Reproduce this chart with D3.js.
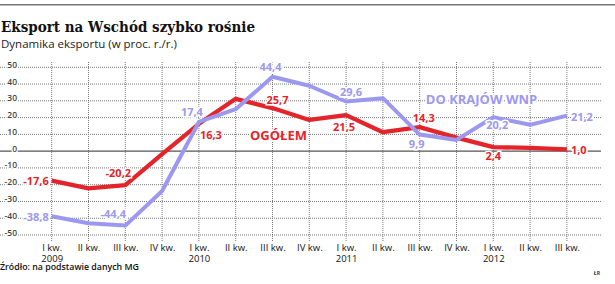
<!DOCTYPE html>
<html>
<head>
<meta charset="utf-8">
<script src="https://cdn.jsdelivr.net/npm/d3@7"></script>
<style>
  body { margin: 0; background: #fff; }
  svg { display: block; }
  text { font-family: "Open Sans", sans-serif; }
</style>
</head>
<body>
<div id="chart"></div>
<script>
// data (export dynamics, % y/y)
const quarters = ["I kw.", "II kw.", "III kw.", "IV kw.", "I kw.", "II kw.", "III kw.", "IV kw.",
                  "I kw.", "II kw.", "III kw.", "IV kw.", "I kw.", "II kw.", "III kw."];
const years = ["2009", "", "", "", "2010", "", "", "", "2011", "", "", "", "2012", "", ""];
const ogolem = [-17.6, -22.2, -20.2, -1.8, 16.3, 31.2, 25.7, 18.6, 21.5, 11.3, 14.3, 8.1, 2.4, 1.9, 1.0];
const wnp = [-38.8, -43.0, -44.4, -23.8, 17.4, 25.0, 44.4, 39.0, 29.6, 31.6, 9.9, 6.7, 20.2, 15.7, 21.2];
const yTicks = [50, 40, 30, 20, 10, 0, -10, -20, -30, -40, -50];

// label offsets for the values shown on the lines (every second quarter)
const redLabels = [
    { i: 0, anchor: "end", dx: -3, dy: 4 },
    { i: 2, anchor: "middle", dx: -7, dy: -8 },
    { i: 4, anchor: "start", dx: 1, dy: 15 },
    { i: 6, anchor: "middle", dx: 5, dy: -4 },
    { i: 8, anchor: "middle", dx: -2, dy: 16 },
    { i: 10, anchor: "middle", dx: 4, dy: -5 },
    { i: 12, anchor: "middle", dx: 0, dy: 13 },
    { i: 14, anchor: "start", dx: 4, dy: 5 }
];
const blueLabels = [
    { i: 0, anchor: "end", dx: -3, dy: 5 },
    { i: 2, anchor: "middle", dx: -12, dy: -8 },
    { i: 4, anchor: "middle", dx: -7, dy: -6 },
    { i: 6, anchor: "middle", dx: -2, dy: -6 },
    { i: 8, anchor: "middle", dx: 5, dy: -6 },
    { i: 10, anchor: "middle", dx: -3, dy: 13 },
    { i: 12, anchor: "middle", dx: 4, dy: 12 },
    { i: 14, anchor: "start", dx: 4, dy: 5 }
];

const width = 615, height = 284;
const red = "#e3242b", blue = "#9c98f0";

const svg = d3.select("#chart").append("svg")
    .attr("width", width)
    .attr("height", height);

// top rule, title, subtitle
svg.append("rect")
    .attr("x", 0).attr("y", 4)
    .attr("width", width).attr("height", 1.5)
    .style("fill", "#777");

svg.append("text")
    .attr("x", 1).attr("y", 31.5)
    .text("Eksport na Wschód szybko rośnie")
    .attr("textLength", 254)
    .attr("lengthAdjust", "spacingAndGlyphs")
    .style("font-family", "'DejaVu Serif', serif")
    .style("font-weight", "bold")
    .style("font-size", "15.5px")
    .style("fill", "#111");

svg.append("text")
    .attr("x", 1).attr("y", 47.5)
    .text("Dynamika eksportu (w proc. r./r.)")
    .style("font-size", "11.5px")
    .style("fill", "#222");

// scales
const x = d3.scalePoint()
    .domain(d3.range(quarters.length))
    .range([51.7, 566.9]);

const y = d3.scaleLinear()
    .domain([-50, 50])
    .range([235, 67.3]);

// dotted grid
const grid = svg.append("g");

grid.selectAll(".hgrid")
    .data(yTicks.filter(d => d !== 0))
    .enter()
    .append("line")
    .attr("class", "hgrid")
    .attr("x1", 0).attr("x2", 601)
    .attr("y1", d => y(d)).attr("y2", d => y(d))
    .style("stroke", "#777")
    .style("stroke-width", 1)
    .style("stroke-dasharray", "1,1");

grid.selectAll(".vgrid")
    .data(x.domain())
    .enter()
    .append("line")
    .attr("class", "vgrid")
    .attr("x1", d => x(d)).attr("x2", d => x(d))
    .attr("y1", 62).attr("y2", 242)
    .style("stroke", "#777")
    .style("stroke-width", 1)
    .style("stroke-dasharray", "1,1");

// zero line
svg.append("line")
    .attr("x1", 0).attr("x2", 601)
    .attr("y1", y(0)).attr("y2", y(0))
    .style("stroke", "#555")
    .style("stroke-width", 1.4);

// y labels
svg.selectAll(".ylab")
    .data(yTicks)
    .enter()
    .append("text")
    .attr("class", "ylab")
    .attr("x", 17)
    .attr("y", d => y(d) + 0.5)
    .attr("text-anchor", "end")
    .text(d => d)
    .style("font-size", "8.5px")
    .style("font-weight", "600")
    .style("fill", "#444")
    .style("stroke", "#fff")
    .style("stroke-width", 2.5)
    .style("paint-order", "stroke");

// x labels via axis, year as a second line in the same text
const xAxis = d3.axisBottom(x)
    .tickSize(0)
    .tickFormat(d => quarters[d]);

const xg = svg.append("g")
    .attr("transform", "translate(0,242)")
    .call(xAxis);
xg.select(".domain").remove();
xg.selectAll("text")
    .attr("dy", 0)
    .attr("y", 8.5)
    .style("font-family", "'Open Sans', sans-serif")
    .style("font-size", "9.5px")
    .style("fill", "#111");

xg.selectAll(".tick text")
    .filter(d => years[d] !== "")
    .append("tspan")
    .attr("x", 0)
    .attr("dy", 11)
    .text(d => years[d]);

// lines
const line = d3.line()
    .x((d, i) => x(i))
    .y(d => y(d));

svg.append("path")
    .datum(ogolem)
    .attr("d", line)
    .style("fill", "none")
    .style("stroke", red)
    .style("stroke-width", 4.3)
    .style("stroke-linejoin", "round");

svg.append("path")
    .datum(wnp)
    .attr("d", line)
    .style("fill", "none")
    .style("stroke", blue)
    .style("stroke-width", 4)
    .style("stroke-linejoin", "round");

// value labels
function fmt(v) {
    return d3.format(".1f")(v).replace(".", ",").replace("−", "-");
}

function drawLabels(series, labels, color) {
    svg.selectAll(null)
        .data(labels)
        .enter()
        .append("text")
        .attr("x", d => x(d.i) + d.dx)
        .attr("y", d => y(series[d.i]) + d.dy)
        .attr("text-anchor", d => d.anchor)
        .text(d => fmt(series[d.i]))
        .style("font-size", "11px")
        .style("font-weight", "bold")
        .style("fill", color)
        .style("stroke", "#fff")
        .style("stroke-width", 3)
        .style("paint-order", "stroke");
}
drawLabels(ogolem, redLabels, red);
drawLabels(wnp, blueLabels, blue);

// series names
svg.append("text")
    .attr("x", 278.5).attr("y", 140)
    .attr("text-anchor", "middle")
    .text("OGÓŁEM")
    .style("font-size", "13px")
    .style("font-weight", "bold")
    .style("fill", red)
    .style("stroke", "#fff")
    .style("stroke-width", 3)
    .style("paint-order", "stroke");

svg.append("text")
    .attr("x", 481.5).attr("y", 104)
    .attr("text-anchor", "middle")
    .text("DO KRAJÓW WNP")
    .style("font-size", "13px")
    .style("font-weight", "bold")
    .style("fill", blue)
    .style("stroke", "#fff")
    .style("stroke-width", 3)
    .style("paint-order", "stroke");

// source
svg.append("text")
    .attr("x", 0).attr("y", 270)
    .text("Źródło: na podstawie danych MG")
    .style("font-size", "8.8px")
    .style("font-weight", "600")
    .style("fill", "#111");

svg.append("text")
    .attr("x", 600).attr("y", 275)
    .attr("text-anchor", "end")
    .text("ŁR")
    .style("font-size", "5px")
    .style("font-weight", "bold")
    .style("fill", "#333");
</script>
</body>
</html>
